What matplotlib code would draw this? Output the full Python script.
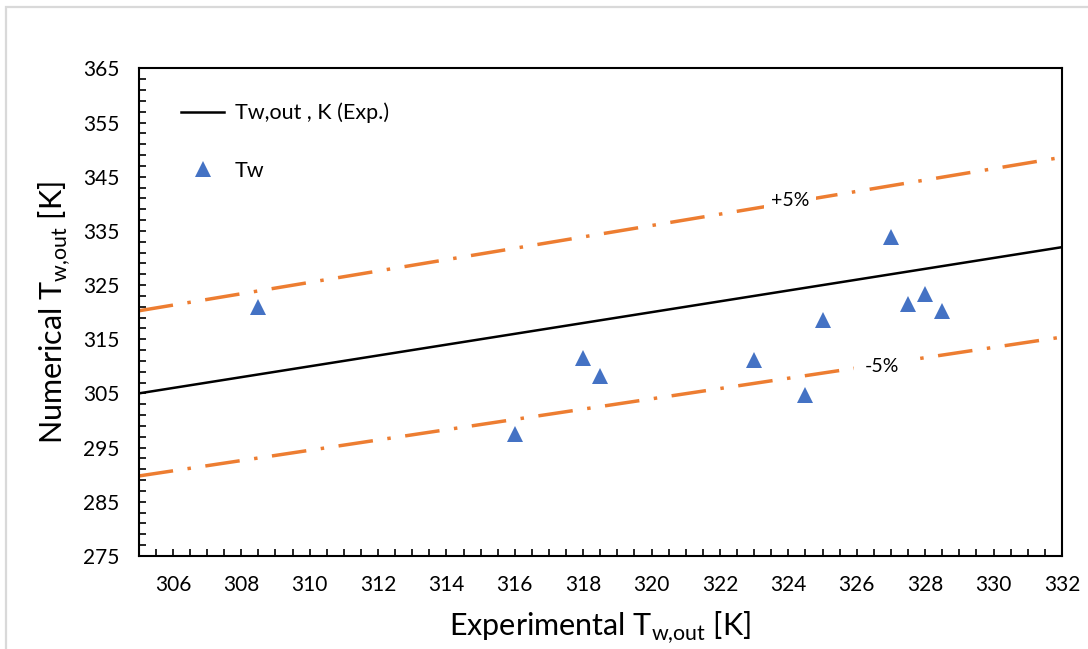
import matplotlib
matplotlib.use("Agg")
import matplotlib.pyplot as plt
from matplotlib.patches import Rectangle

plt.rcParams['font.family'] = ['Lato', 'DejaVu Sans']
plt.rcParams['mathtext.fontset'] = 'custom'
plt.rcParams['mathtext.rm'] = 'Lato'

# data
exp_x = [305, 332]
exp_y = [305, 332]
plus5_y = [320.25, 348.6]
minus5_y = [289.75, 315.4]

tw_exp = [308.5, 316.0, 318.0, 318.5, 323.0, 324.5, 325.0, 327.0, 327.5, 328.0, 328.5]
tw_num = [321.0, 297.5, 311.5, 308.3, 311.1, 304.7, 318.5, 333.8, 321.6, 323.3, 320.2]

x_major = list(range(306, 333, 2))
y_major = list(range(275, 366, 10))

orange = "#ED7D31"
blue = "#4472C4"

fig = plt.figure(figsize=(10.88, 6.49), dpi=100)
ax = fig.add_axes([0.1275, 0.1435, 0.8485, 0.751])

# grey chart-area border (only top and left visible)
fig.patches.append(Rectangle((6/1088, -0.1), 1.2, 1 - 7/649 + 0.1, transform=fig.transFigure,
                             fill=False, edgecolor="#D9D9D9", linewidth=1.6))

ax.plot(exp_x, exp_y, color="black", lw=1.8, label="Tw,out , K (Exp.)", zorder=3)
ax.plot(exp_x, plus5_y, color=orange, lw=2.5, dashes=(10, 4.2, 1, 4.2), zorder=2)
ax.plot(exp_x, minus5_y, color=orange, lw=2.5, dashes=(10, 4.2, 1, 4.2), zorder=2)
ax.plot(tw_exp, tw_num, linestyle="none", marker="^", ms=12, color=blue,
        markeredgewidth=0, label="Tw", zorder=4)

ax.text(324.05, 340.7, "+5%", fontsize=14, ha="center", va="center", zorder=5,
        bbox=dict(facecolor="white", edgecolor="none", pad=5))
ax.text(326.74, 310.0, "-5%", fontsize=14, ha="center", va="center", zorder=5,
        bbox=dict(facecolor="white", edgecolor="none", pad=8))

ax.set_xlim(305, 332)
ax.set_ylim(275, 365)
ax.set_xticks(x_major)
ax.set_xticks([v / 2 for v in range(611, 665)], minor=True)
ax.set_yticks(y_major)
ax.set_yticks(list(range(275, 366, 2)), minor=True)
ax.tick_params(which="both", direction="in", length=5, width=1.2, top=False, right=False)
ax.tick_params(which="major", labelsize=15, pad=14)
for s in ax.spines.values():
    s.set_linewidth(1.5)

ax.set_xlabel(r"Experimental T$_\mathrm{w{,}out}$ [K]", fontsize=22, labelpad=10)
ax.set_ylabel(r"Numerical T$_\mathrm{w{,}out}$ [K]", fontsize=22, labelpad=8)

ax.legend(loc="upper left", bbox_to_anchor=(0.025, 0.97), frameon=False, fontsize=15.5,
          handlelength=2.0, handletextpad=0.5, labelspacing=1.75)

fig.savefig("out.png", dpi=100, facecolor="white")
